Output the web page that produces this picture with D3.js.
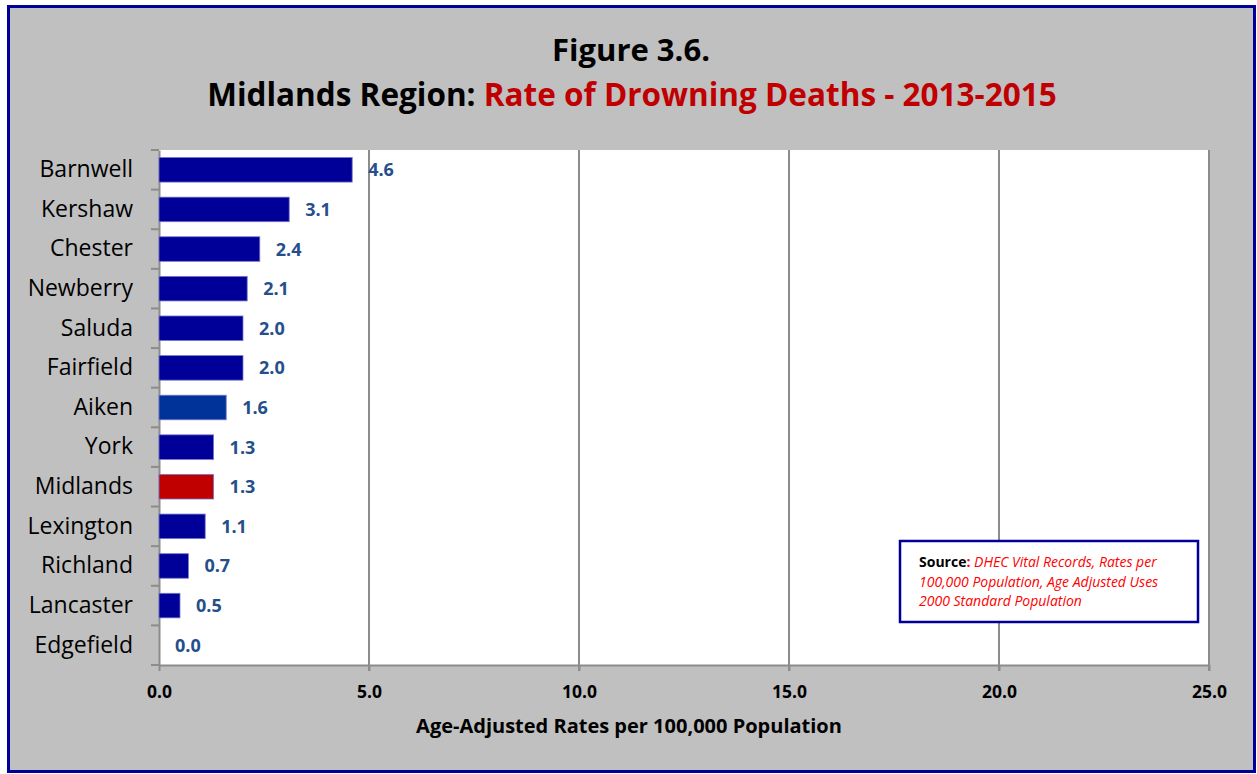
<!DOCTYPE html>
<html><head><meta charset="utf-8">
<script src="https://cdn.jsdelivr.net/npm/d3@7"></script>
<style>body{margin:0;background:#fff}svg{display:block}</style>
</head><body>
<script>
const categories = ["Barnwell","Kershaw","Chester","Newberry","Saluda","Fairfield","Aiken","York","Midlands","Lexington","Richland","Lancaster","Edgefield"];
const values = [4.6,3.1,2.4,2.1,2.0,2.0,1.6,1.3,1.3,1.1,0.7,0.5,0.0];
const barColors = ["#000099","#000099","#000099","#000099","#000099","#000099","#003399","#000099","#C00000","#000099","#000099","#000099","#000099"];
const xTicks = [0,5,10,15,20,25];

const W = 1257, H = 774;
const font = "'Open Sans', 'Liberation Sans', sans-serif";
const svg = d3.select("body").append("svg").attr("width", W).attr("height", H);

svg.append("rect").attr("x",0).attr("y",0).attr("width",W).attr("height",H).attr("fill","#ffffff");
svg.append("rect").attr("x",8.5).attr("y",6.5).attr("width",1246).attr("height",765)
  .attr("fill","#C0C0C0").attr("stroke","#000099").attr("stroke-width",3);

const m = {left:159, right:1209, top:150, bottom:665};
const x = d3.scaleLinear().domain([0,25]).range([m.left, m.right]);
const y = d3.scaleBand().domain(categories).range([m.top, m.bottom]).paddingInner(0.38).paddingOuter(0.19);

svg.append("rect").attr("x",m.left).attr("y",m.top).attr("width",m.right-m.left).attr("height",m.bottom-m.top).attr("fill","#fff");

// gridlines
svg.append("g").selectAll("line").data(xTicks.slice(1)).join("line")
  .attr("x1",d=>x(d)).attr("x2",d=>x(d)).attr("y1",m.top).attr("y2",m.bottom+6)
  .attr("stroke","#8c8c8c").attr("stroke-width",2);

// bottom axis
const xAxis = svg.append("g").attr("transform",`translate(0,${m.bottom})`)
  .call(d3.axisBottom(x).tickValues(xTicks).tickFormat(d3.format(".1f")).tickSize(6).tickSizeOuter(0));
xAxis.select(".domain").attr("stroke","#8c8c8c").attr("stroke-width",2);
xAxis.selectAll(".tick line").attr("stroke","#8c8c8c").attr("stroke-width",2);
xAxis.selectAll("text").attr("font-family",font).attr("font-size",17.5).attr("font-weight","bold")
  .attr("fill","#000").attr("dy",0).attr("y",33);

// left axis
const yAxis = svg.append("g").attr("transform",`translate(${m.left},0)`)
  .call(d3.axisLeft(y).tickSize(0).tickPadding(26));
yAxis.select(".domain").attr("stroke","#8c8c8c").attr("stroke-width",2);
yAxis.selectAll("text").attr("font-family",font).attr("font-size",23).attr("fill","#000");
// category separator ticks
const sepPositions = d3.range(categories.length+1).map(i => m.top + i*(m.bottom-m.top)/categories.length);
svg.append("g").selectAll("line").data(sepPositions).join("line")
  .attr("x1",m.left-8).attr("x2",m.left).attr("y1",d=>d).attr("y2",d=>d)
  .attr("stroke","#8c8c8c").attr("stroke-width",2);

// bars
svg.append("g").selectAll("rect").data(values).join("rect")
  .attr("x",x(0)).attr("y",(d,i)=>y(categories[i])).attr("width",d=>x(d)-x(0))
  .attr("height",y.bandwidth()).attr("fill",(d,i)=>barColors[i])
  .attr("stroke",(d,i)=> d>0 ? "#7777cc" : "none").attr("stroke-width",0.8);

// value labels
svg.append("g").selectAll("text").data(values).join("text")
  .attr("x",d=>x(d)+16).attr("y",(d,i)=>y(categories[i])+y.bandwidth()/2).attr("dy","0.36em")
  .attr("font-family",font).attr("font-size",18).attr("font-weight","bold").attr("fill","#254F8A")
  .text(d=>d3.format(".1f")(d));

// titles
svg.append("text").attr("x",631).attr("y",61).attr("text-anchor","middle")
  .attr("font-family",font).attr("font-size",31).attr("font-weight","bold").attr("fill","#000")
  .text("Figure 3.6.");
const t2 = svg.append("text").attr("x",632).attr("y",106).attr("text-anchor","middle")
  .attr("font-family",font).attr("font-size",31.5).attr("font-weight","bold");
t2.append("tspan").attr("fill","#000").text("Midlands Region: ");
t2.append("tspan").attr("fill","#C00000").text("Rate of Drowning Deaths - 2013-2015");

svg.append("text").attr("x",629).attr("y",733).attr("text-anchor","middle")
  .attr("font-family",font).attr("font-size",20).attr("font-weight","bold").attr("fill","#000")
  .text("Age-Adjusted Rates per 100,000 Population");

// source box
svg.append("rect").attr("x",900).attr("y",541).attr("width",298).attr("height",81)
  .attr("fill","#fff").attr("stroke","#000099").attr("stroke-width",2.5);
const srcLines = [
  [["Source",true,"#000",false],[": ",true,"#ff0000",false],["DHEC Vital Records, Rates per",false,"#ff0000",true]],
  [["100,000 Population, Age Adjusted Uses",false,"#ff0000",true]],
  [["2000 Standard Population",false,"#ff0000",true]]
];
srcLines.forEach((line,i)=>{
  const t = svg.append("text").attr("x",919).attr("y",567+i*19.5)
    .attr("font-family",font).attr("font-size",14);
  line.forEach(([s,b,c,it])=>{
    t.append("tspan").attr("fill",c).attr("font-weight",b?"bold":"normal")
      .attr("font-style",it?"italic":"normal").text(s);
  });
});
</script>
</body></html>
